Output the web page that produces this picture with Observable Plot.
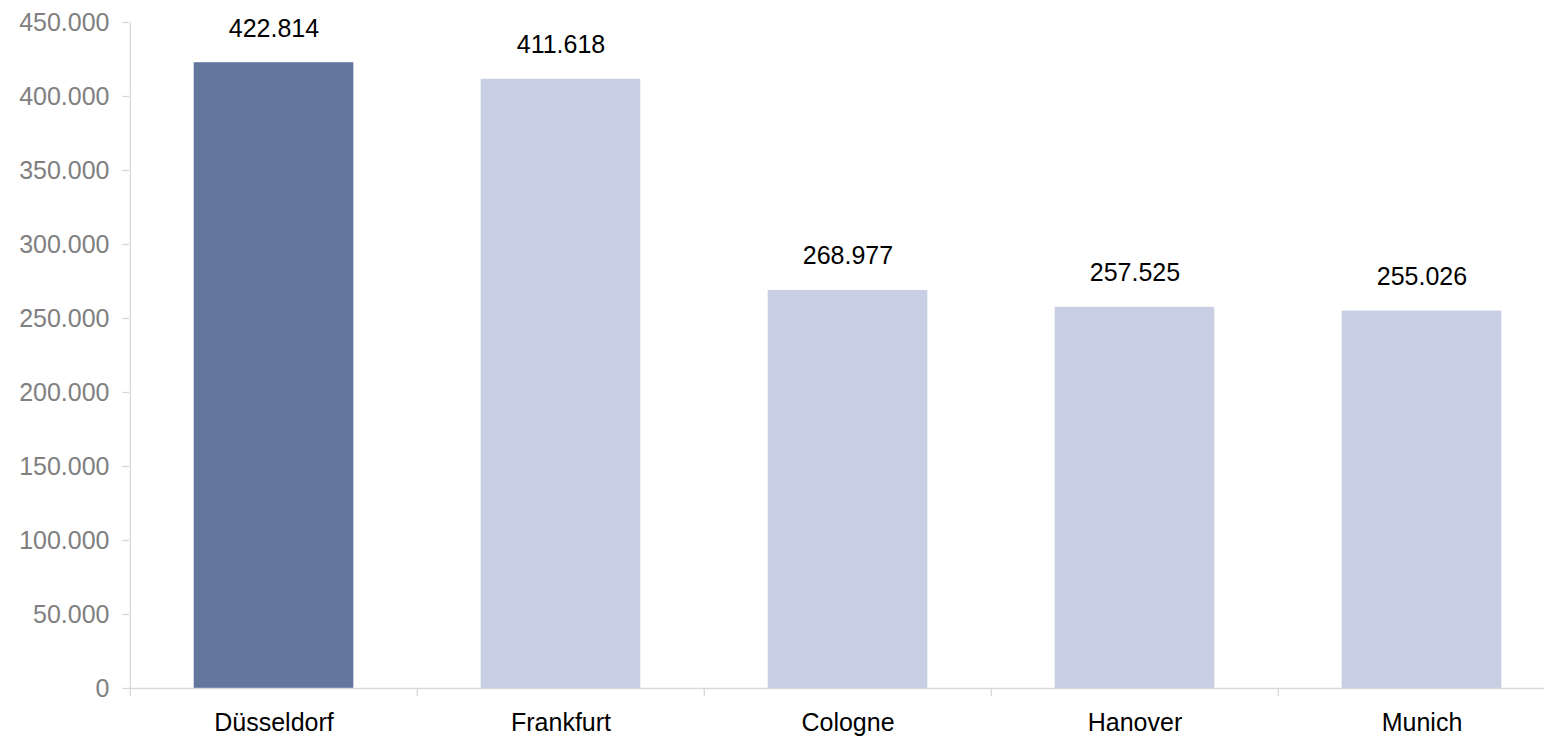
<!DOCTYPE html>
<html>
<head>
<meta charset="utf-8">
<script src="https://cdn.jsdelivr.net/npm/d3@7"></script>
<script src="https://cdn.jsdelivr.net/npm/@observablehq/plot@0.6"></script>
<style>
  html, body { margin: 0; padding: 0; background: #fff; }
  #chart svg { display: block; }
</style>
</head>
<body>
<div id="chart"></div>
<script>
const cities = ["Düsseldorf", "Frankfurt", "Cologne", "Hanover", "Munich"];
const values = [422814, 411618, 268977, 257525, 255026];
const highlight = ["Düsseldorf"];
const yTicks = [0, 50000, 100000, 150000, 200000, 250000, 300000, 350000, 400000, 450000];

const locale = d3.formatLocale({decimal: ",", thousands: ".", grouping: [3], currency: ["", "€"]});
const fmt = locale.format(",d");

const data = cities.map((c, i) => ({city: c, value: values[i], hi: highlight.includes(c)}));

const W = 1544, H = 736;
const left = 129, step = 287.4;
const right = left + step * cities.length;
const barW = 160;
const inset = (step - barW) / 2;
const font = "'Liberation Sans', Arial, Helvetica, sans-serif";
const grid = "#d9d9d9";

const chart = Plot.plot({
  width: W,
  height: H,
  marginLeft: left,
  marginRight: 0,
  marginTop: 22,
  marginBottom: 48,
  style: {fontFamily: font, background: "#fff", overflow: "hidden"},
  x: {domain: cities, range: [left, right], padding: 0, label: null},
  y: {domain: [0, 450000], range: [688, 22], label: null},
  marks: [
    Plot.barY(data, {
      x: "city", y: "value",
      fill: d => d.hi ? "#61759d" : "#c8cee3",
      insetLeft: inset, insetRight: inset
    }),
    Plot.ruleY([0], {stroke: grid, strokeWidth: 1.3}),
    Plot.ruleX([cities[0]], {x: d => d, dx: -step / 2, y1: 0, y2: 450000, stroke: grid, strokeWidth: 1.3}),
    Plot.axisY({ticks: yTicks, tickSize: 7, text: null, label: null, stroke: grid, strokeWidth: 1.3}),
    Plot.axisY({ticks: yTicks, tickSize: 0, tickPadding: 20, tickFormat: fmt, label: null, fontSize: 25, fill: "#808080", stroke: "none"}),
    Plot.axisX({tickSize: 8, text: null, label: null, dx: -step / 2, stroke: grid, strokeWidth: 1.3}),
    Plot.axisX({tickSize: 0, tickPadding: 25, fontSize: 25, fill: "#000", stroke: "none", label: null}),
    Plot.text(data, {x: "city", y: "value", text: d => fmt(d.value), dy: -34, fontSize: 25, fill: "#000"})
  ]
});
document.getElementById("chart").appendChild(chart);
</script>
</body>
</html>
